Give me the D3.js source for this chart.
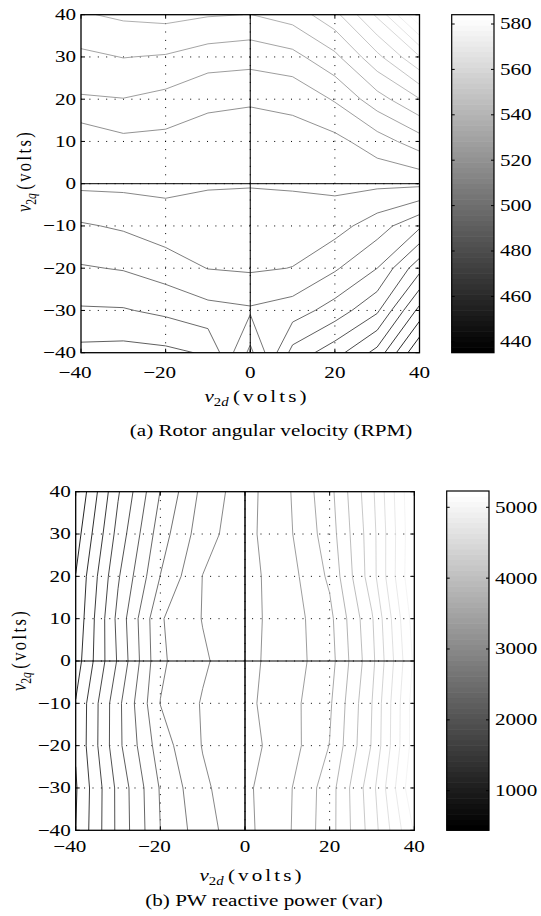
<!DOCTYPE html>
<html><head><meta charset="utf-8">
<script src="https://cdn.jsdelivr.net/npm/d3@7"></script>
<style>
body{margin:0;background:#fff;}
text{font-family:"Liberation Serif","Times New Roman",serif;fill:#000;}
</style></head><body>
<svg id="fig" width="541" height="916"></svg>
<script>
// ---------- data ----------
const vd = [-40,-30,-20,-10,0,10,20,30,40];          // v2d grid (columns)
const vq = [40,30,20,10,0,-10,-20,-30,-40];          // v2q grid (rows, top to bottom)
const xTicks = [-40,-20,0,20,40];
const yTicks = [-40,-30,-20,-10,0,10,20,30,40];

// (a) rotor angular velocity, RPM  (rows v2q = 40 ... -40)
const rpm = [
 [531.7, 533.4, 534.2, 532.8, 532.2, 535.0, 543.3, 559.4, 584.1],
 [524.4, 526.0, 525.3, 522.7, 521.5, 523.8, 530.7, 543.5, 557.7],
 [518.7, 519.2, 517.5, 513.9, 514.2, 514.3, 520.0, 529.6, 538.5],
 [508.3, 511.4, 511.0, 510.8, 507.0, 510.6, 511.0, 516.2, 522.8],
 [507.8, 507.9, 508.0, 507.4, 507.1, 507.1, 508.0, 507.8, 507.8],
 [499.2, 500.8, 503.4, 500.9, 500.3, 503.2, 502.5, 496.5, 488.2],
 [492.9, 493.9, 496.6, 500.1, 500.8, 499.8, 494.3, 487.0, 469.7],
 [486.3, 486.5, 488.4, 491.3, 492.6, 490.3, 484.1, 475.2, 452.6],
 [478.6, 478.2, 479.0, 481.3, 501.6, 478.3, 470.2, 458.9, 435.2]
];
const rpmTicks = [440,460,480,500,520,540,560,580];
const rpmLevelCount = 22;

// (b) PW reactive power, var  (rows v2q = 40 ... -40)
const qvar = [
 [441, 1328, 2044, 2555, 2863, 3143, 3561, 4268, 5230],
 [560, 1435, 2160, 2619, 2879, 3127, 3520, 4227, 5207],
 [676, 1554, 2270, 2726, 2872, 3073, 3447, 4218, 5230],
 [715, 1647, 2471, 2731, 2877, 3054, 3342, 4065, 5116],
 [783, 1609, 2455, 2687, 2883, 3061, 3310, 4024, 5048],
 [909, 1748, 2498, 2740, 2897, 3084, 3371, 4090, 5116],
 [920, 1750, 2384, 2733, 2872, 3061, 3412, 4108, 5116],
 [874, 1643, 2286, 2674, 2904, 3132, 3527, 4238, 5207],
 [897, 1638, 2265, 2619, 2890, 3141, 3538, 4195, 5025]
];
const qTicks = [1000,2000,3000,4000,5000];
const qLevelCount = 20;

// ---------- drawing ----------
const SX = 1.28, FS = 16.5;
const svg = d3.select('#fig');
const MINUS = '\u2212';
const fmt = v => (v < 0 ? MINUS : '') + Math.abs(v);

function txt(g, x, y, anchor, str, extra) {
  const t = g.append('text').attr('text-anchor', anchor).attr('font-size', FS)
    .attr('transform', `translate(${x},${y}) scale(${SX},1)` + (extra && extra.rotate ? ` rotate(${extra.rotate})` : ''));
  if (typeof str === 'function') str(t); else t.text(str);
  return t;
}
function varLabel(t, sub) {
  t.append('tspan').attr('font-style', 'italic').text('v');
  t.append('tspan').attr('font-size', FS * 0.7).attr('dy', 3.5).text('2');
  t.append('tspan').attr('font-size', FS * 0.7).attr('font-style', 'italic').text(sub);
  t.append('tspan').attr('dy', -3.5).attr('dx', 3.5).attr('letter-spacing', 2.4).text('(volts)');
}
const grayOf = (v, lo, hi) => {
  const idx = Math.max(0, Math.min(63, Math.floor((v - lo) / (hi - lo) * 64)));
  const c = Math.round(idx / 63 * 255);
  return `rgb(${c},${c},${c})`;
};

function panel(cfg) {
  const g = svg.append('g');
  const x = d3.scaleLinear().domain([-40, 40]).range([cfg.x0, cfg.x1]);
  const y = d3.scaleLinear().domain([-40, 40]).range([cfg.y1, cfg.y0]);
  const grid = cfg.grid;
  const values = grid.flat();
  const lo = d3.min(values), hi = d3.max(values);
  const nL = cfg.levelCount;
  const levels = d3.range(1, nL + 1).map(k => lo + k * (hi - lo) / (nL + 1));

  const clipId = 'clip' + cfg.id;
  svg.append('clipPath').attr('id', clipId).append('rect')
    .attr('x', cfg.x0).attr('y', cfg.y0).attr('width', cfg.x1 - cfg.x0).attr('height', cfg.y1 - cfg.y0);

  // dotted grid
  const gg = g.append('g').attr('stroke', '#000').attr('stroke-width', 1).attr('stroke-dasharray', '1,7.4');
  xTicks.slice(1, -1).forEach(v => gg.append('line').attr('x1', x(v)).attr('x2', x(v)).attr('y1', cfg.y0).attr('y2', cfg.y1));
  yTicks.slice(1, -1).forEach(v => gg.append('line').attr('y1', y(v)).attr('y2', y(v)).attr('x1', cfg.x0).attr('x2', cfg.x1));

  // contours
  const n = vd.length, m = vq.length;
  const gx = d3.scaleLinear().domain([0.5, n - 0.5]).range([x(vd[0]), x(vd[n - 1])]);
  const gy = d3.scaleLinear().domain([0.5, m - 0.5]).range([y(vq[0]), y(vq[m - 1])]);
  const path = d3.geoPath(d3.geoTransform({ point: function (px, py) { this.stream.point(gx(px), gy(py)); } }));
  const cont = d3.contours().size([n, m]).thresholds(levels)(values);
  g.append('g').attr('clip-path', `url(#${clipId})`).selectAll('path').data(cont).join('path')
    .attr('d', path).attr('fill', 'none').attr('stroke-width', 0.9)
    .attr('stroke', d => grayOf(d.value, lo, hi));

  // zero lines
  g.append('line').attr('x1', x(0)).attr('x2', x(0)).attr('y1', cfg.y0).attr('y2', cfg.y1).attr('stroke', '#000').attr('stroke-width', cfg.zeroW || 1);
  g.append('line').attr('x1', cfg.x0).attr('x2', cfg.x1).attr('y1', y(0)).attr('y2', y(0)).attr('stroke', '#000').attr('stroke-width', 1);

  // box + ticks
  g.append('rect').attr('x', cfg.x0).attr('y', cfg.y0).attr('width', cfg.x1 - cfg.x0).attr('height', cfg.y1 - cfg.y0)
    .attr('fill', 'none').attr('stroke', '#000').attr('stroke-width', 1.3);
  const tl = 4;
  const tk = g.append('g').attr('stroke', '#000').attr('stroke-width', 1);
  xTicks.forEach(v => {
    tk.append('line').attr('x1', x(v)).attr('x2', x(v)).attr('y1', cfg.y1).attr('y2', cfg.y1 - tl);
    tk.append('line').attr('x1', x(v)).attr('x2', x(v)).attr('y1', cfg.y0).attr('y2', cfg.y0 + tl);
  });
  yTicks.forEach(v => {
    tk.append('line').attr('y1', y(v)).attr('y2', y(v)).attr('x1', cfg.x0).attr('x2', cfg.x0 + tl);
    tk.append('line').attr('y1', y(v)).attr('y2', y(v)).attr('x1', cfg.x1).attr('x2', cfg.x1 - tl);
  });

  // tick labels
  xTicks.forEach(v => {
    const t = txt(g, x(v), cfg.y1 + cfg.xlabOff, 'middle', fmt(v));
    if (v < 0) t.attr('dx', -0.282 * FS);
  });
  yTicks.forEach(v => txt(g, cfg.x0 - 5, y(v) + 0.33 * FS, 'end', fmt(v)));

  // axis labels + caption
  txt(g, cfg.xlabX, cfg.xlabY, 'middle', t => varLabel(t, 'd'));
  txt(g, cfg.ylabX, cfg.ylabY, 'middle', t => varLabel(t, 'q'), { rotate: -90 }).attr('y', 0.3 * FS);
  txt(g, cfg.capX, cfg.capY, 'middle', cfg.caption);

  // colorbar
  const cb = cfg.cb;
  const cy = d3.scaleLinear().domain([lo, hi]).range([cb.y1, cb.y0]);
  const bands = d3.range(64);
  g.append('g').selectAll('rect').data(bands).join('rect')
    .attr('x', cb.x0).attr('width', cb.x1 - cb.x0)
    .attr('y', i => cy(lo + (i + 1) * (hi - lo) / 64) - 0.3)
    .attr('height', i => cy(lo + i * (hi - lo) / 64) - cy(lo + (i + 1) * (hi - lo) / 64) + 0.6)
    .attr('fill', i => { const c = Math.round(i / 63 * 255); return `rgb(${c},${c},${c})`; });
  g.append('rect').attr('x', cb.x0).attr('y', cb.y0).attr('width', cb.x1 - cb.x0).attr('height', cb.y1 - cb.y0)
    .attr('fill', 'none').attr('stroke', '#000').attr('stroke-width', 1.2);
  cfg.cbTicks.forEach(v => {
    g.append('line').attr('x1', cb.x0).attr('x2', cb.x0 + 3).attr('y1', cy(v)).attr('y2', cy(v)).attr('stroke', '#000');
    g.append('line').attr('x1', cb.x1).attr('x2', cb.x1 - 3).attr('y1', cy(v)).attr('y2', cy(v)).attr('stroke', '#000');
    txt(g, cb.x1 + 6, cy(v) + 0.33 * FS, 'start', String(v));
  });
}

panel({ id: 'a', grid: rpm, levelCount: rpmLevelCount, x0: 81, x1: 419.5, y0: 14.7, y1: 352.7, xlabOff: 25,
  xlabX: 257, xlabY: 402, ylabX: 25, ylabY: 171, capX: 271, capY: 436,
  caption: '(a) Rotor angular velocity (RPM)',
  cb: { x0: 451.7, x1: 494, y0: 14.7, y1: 352.7 }, cbTicks: rpmTicks });

panel({ id: 'b', grid: qvar, levelCount: qLevelCount, x0: 75.7, x1: 414.3, y0: 491.7, y1: 830.3, xlabOff: 22, zeroW: 1.5,
  xlabX: 252, xlabY: 881, ylabX: 20, ylabY: 650, capX: 264, capY: 906,
  caption: '(b) PW reactive power (var)',
  cb: { x0: 446.7, x1: 489, y0: 491, y1: 830.3 }, cbTicks: qTicks });
</script>
</body></html>
